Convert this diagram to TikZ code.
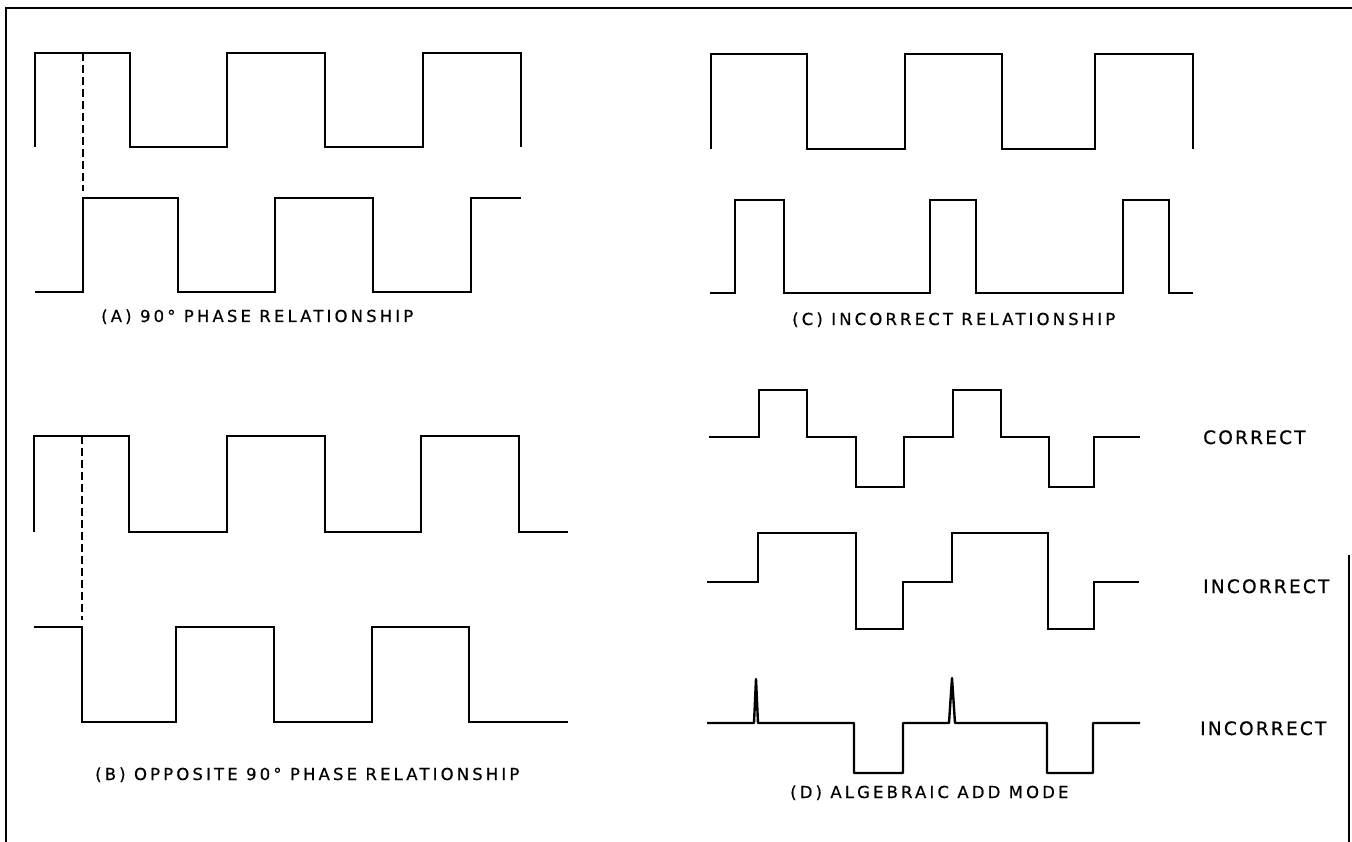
\documentclass[tikz,border=0pt]{standalone}
\usepackage{fontspec}
\newfontfamily\panelfont{DejaVu Sans}[LetterSpace=19,FakeBold=0.6]
\newfontfamily\sidefont{DejaVu Sans}[LetterSpace=12,FakeBold=0.6]

\begin{document}
\begin{tikzpicture}[x=1pt,y=-1pt,
    wave/.style={line width=2.4pt},
    guide/.style={line width=1.6pt, dash pattern=on 8pt off 4pt},
    frameline/.style={line width=2.2pt},
    paneltext/.style={anchor=base west, inner sep=0pt, font=\fontsize{16.5}{19}\panelfont},
    sidetext/.style={anchor=base west, inner sep=0pt, font=\fontsize{18.5}{21}\sidefont}]
    \useasboundingbox(0,0)rectangle(1352,842);
    \draw[frameline](6,842)--(6,8)--(1352,8);
    \draw[frameline](1349,555)--(1349,842);

    \draw[wave](35,147)--(35,53)--(130,53)--(130,147)--(227,147)--(227,53)--(325,53)--(325,147)--(423,147)--(423,53)--(521,53)--(521,147);
    \draw[wave](35,292)--(83,292)--(83,198)--(178,198)--(178,292)--(275,292)--(275,198)--(373,198)--(373,292)--(471,292)--(471,198)--(521,198);
    \draw[guide](83,53)--(83,191);
    \node[paneltext](labA)at(101,322){(A) 90° PHASE RELATIONSHIP};

    \draw[wave](34,532)--(34,436)--(129,436)--(129,532)--(227,532)--(227,436)--(325,436)--(325,532)--(421,532)--(421,436)--(519,436)--(519,532)--(568,532);
    \draw[wave](34,627)--(82,627)--(82,722)--(176,722)--(176,627)--(274,627)--(274,722)--(372,722)--(372,627)--(469,627)--(469,722)--(568,722);
    \draw[guide](82,436)--(82,620);
    \node[paneltext](labB)at(95,780){(B) OPPOSITE 90° PHASE RELATIONSHIP};

    \draw[wave](711,149)--(711,54)--(807,54)--(807,149)--(905,149)--(905,54)--(1002,54)--(1002,149)--(1095,149)--(1095,54)--(1193,54)--(1193,149);
    \draw[wave](710,293)--(735,293)--(735,200)--(784,200)--(784,293)--(930,293)--(930,200)--(976,200)--(976,293)--(1123,293)--(1123,200)--(1169,200)--(1169,293)--(1193,293);
    \node[paneltext](labC)at(792,325){(C) INCORRECT RELATIONSHIP};

    \draw[wave](709,437)--(759,437)--(759,390)--(807,390)--(807,437)--(856,437)--(856,487)--(904,487)--(904,437)--(953,437)--(953,390)--(1001,390)--(1001,437)--(1049,437)--(1049,487)--(1094,487)--(1094,437)--(1140,437);
    \node[sidetext](labCorrect)at(1203,444){CORRECT};
    \draw[wave](707,582)--(758,582)--(758,533)--(856,533)--(856,629)--(903,629)--(903,582)--(952,582)--(952,533)--(1048,533)--(1048,629)--(1094,629)--(1094,582)--(1139,582);
    \node[sidetext](labWrongA)at(1203,593){INCORRECT};
    \draw[wave, line join=round](707,723)--(754,723)--(756,679)--(758,723)--(854,723)--(854,773)--(903,773)--(903,723)--(949,723)--(952,678)--(955,723)--(1047,723)--(1047,773)--(1093,773)--(1093,723)--(1140,723);
    \node[sidetext](labWrongB)at(1200,735){INCORRECT};
    \node[paneltext](labD)at(790,798){(D) ALGEBRAIC ADD MODE};
\end{tikzpicture}
\end{document}
